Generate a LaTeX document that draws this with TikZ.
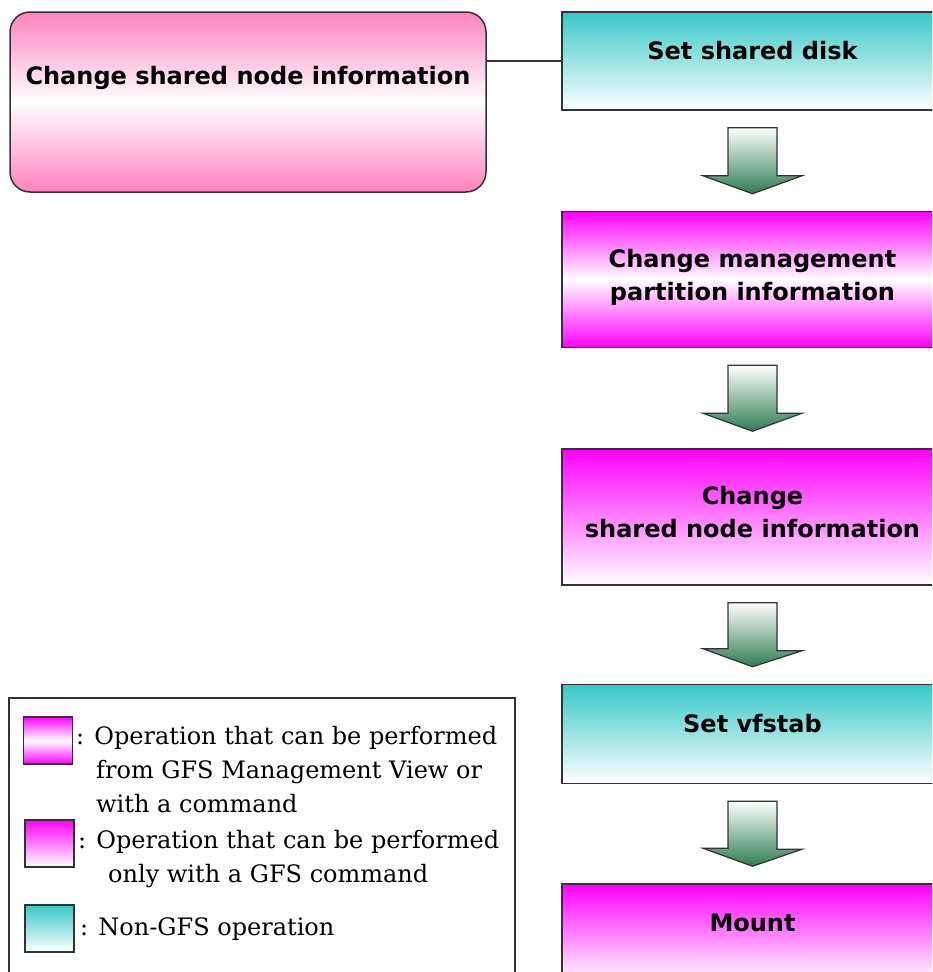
\documentclass[tikz,border=0pt]{standalone}
\usepackage{fontspec}
\usetikzlibrary{positioning,calc}
\newfontfamily\boxfont{DejaVu Sans}
\newfontfamily\legendfont{DejaVu Serif}
\definecolor{pinkop}{RGB}{255,130,190}
\definecolor{magentaop}{RGB}{255,0,255}
\definecolor{tealop}{RGB}{56,200,200}
\definecolor{arrowgreen}{RGB}{45,125,80}
\definecolor{frame}{RGB}{51,51,51}
% lift the text above the middle of its box
\newcommand\lift[2][8pt]{\raisebox{#1}[\height][\depth]{\begin{tabular}{@{}c@{}}#2\end{tabular}}}

\begin{document}
\begin{tikzpicture}[x=1pt, y=-1pt, every node/.style={inner sep=0pt},
    opbox/.style={draw=frame, line width=1.5pt, minimum width=381pt, font=\boxfont\bfseries\fontsize{24}{33}\selectfont},
    viewop/.style={opbox, top color=magentaop, bottom color=magentaop, middle color=white},
    cmdop/.style={opbox, top color=magentaop, bottom color=white},
    otherop/.style={opbox, top color=tealop, bottom color=white},
    infobox/.style={opbox, rounded corners=20pt, minimum width=476pt, minimum height=180pt, top color=pinkop, bottom color=pinkop, middle color=white},
    swatch/.style={draw=frame, line width=1.5pt, minimum width=49pt, minimum height=47pt},
    legendtext/.style={anchor=base west, align=left, font=\legendfont\fontsize{24}{34}\selectfont},
    flowarrow/.style={draw=frame, line width=1.2pt, top color=white, bottom color=arrowgreen}]
    \useasboundingbox (0,0) rectangle (932,972);
    \clip (0,0) rectangle (932,972);

    % 1. operation in focus
    \node[infobox] (changeinfo) at (248,102) {\lift[24pt]{Change shared node information}};

    % 2. steps of the flow
    \node[otherop, minimum height=98pt] (disk) at (752.5,61) {\lift{Set shared disk}};
    \node[viewop, minimum height=136pt, below=100pt of disk] (mgmt) {\lift[2.5pt]{Change management\\partition information}};
    \node[cmdop, minimum height=136pt, below=100pt of mgmt] (shared) {\lift[2.5pt]{Change\\shared node information}};
    \node[otherop, minimum height=99pt, below=98pt of shared] (vfstab) {\lift{Set vfstab}};
    \node[cmdop, minimum height=98pt, below=99pt of vfstab] (mount) {\lift{Mount}};

    \draw[frame, line width=1.2pt] (changeinfo.east |- disk.west) -- (disk.west);

    % 3. block arrows between steps
    \foreach \a/\b in {disk/mgmt, mgmt/shared, shared/vfstab, vfstab/mount}
        \draw[flowarrow] ($(\a.south)+(-24.5,17)$) -- ++(49,0) -- ++(0,48) -- ++(25,0)
            -- ($(\b.north)+(0,-17)$) -- ++(-49.5,-18) -- ++(25,0) -- cycle;

    % 4. legend (base = last line)
    \draw[frame, line width=1.5pt] (9,698) rectangle (515,990);
    \node[swatch, top color=magentaop, bottom color=magentaop, middle color=white] (viewkey) at (48,740.5) {};
    \node[swatch, top color=magentaop, bottom color=white] (cmdkey) at (49.5,843.5) {};
    \node[swatch, top color=tealop, bottom color=white] (otherkey) at (49.5,928.5) {};
    \node[legendtext] (viewtext) at (76,812) {: Operation that can be performed\\\hspace*{20pt}from GFS Management View or\\\hspace*{20pt}with a command};
    \node[legendtext] (cmdtext) at (78,882) {: Operation that can be performed\\\hspace*{30pt}only with a GFS command};
    \node[legendtext] (othertext) at (80,935) {: Non-GFS operation};
\end{tikzpicture}
\end{document}
